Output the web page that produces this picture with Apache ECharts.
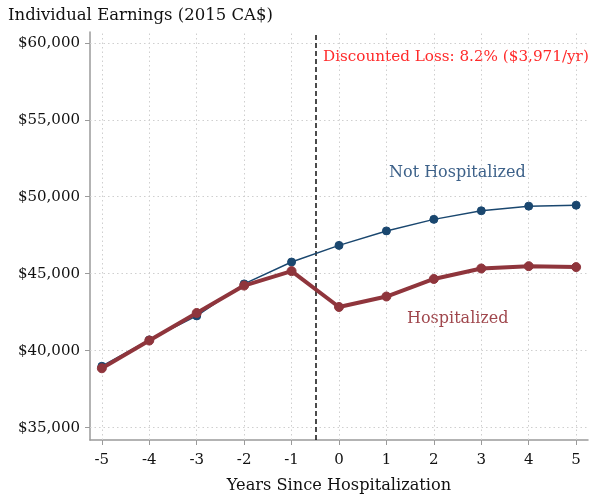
<!DOCTYPE html>
<html>
<head>
<meta charset="utf-8">
<script src="https://cdn.jsdelivr.net/npm/echarts@6/dist/echarts.min.js"></script>
<style>html,body{margin:0;padding:0;background:#fff;}#c{width:592px;height:494px;}</style>
</head>
<body>
<div id="c"></div>
<script>
const years = [-5, -4, -3, -2, -1, 0, 1, 2, 3, 4, 5];
const notHospitalized = [38990, 40700, 42260, 44340, 45760, 46840, 47780, 48530, 49090, 49390, 49450];
const hospitalized = [38860, 40660, 42450, 44230, 45170, 42840, 43520, 44660, 45340, 45490, 45430];
const xTicks = [-5, -4, -3, -2, -1, 0, 1, 2, 3, 4, 5];
const yTicks = [35000, 40000, 45000, 50000, 55000, 60000];
const eventLine = -0.5;

const FONT = 'DejaVu Serif';
const chart = echarts.init(document.getElementById('c'));
const gridLines = xTicks.map(v => ({xAxis: v})).concat(yTicks.map(v => ({yAxis: v})));

chart.setOption({
  animation: false,
  textStyle: {fontFamily: FONT},
  grid: {left: 90, right: 4, top: 32, bottom: 54, containLabel: false, outerBoundsMode: 'none'},
  xAxis: {
    type: 'value', min: -5.25, max: 5.25,
    axisLine: {show: true, onZero: false, lineStyle: {color: '#9a9a9a', width: 1.5}},
    axisTick: {show: true, customValues: xTicks, length: 5, lineStyle: {color: '#9a9a9a', width: 1}},
    axisLabel: {customValues: xTicks, color: '#111', fontFamily: FONT, fontSize: 15, margin: 13},
    splitLine: {show: false},
    name: 'Years Since Hospitalization', nameLocation: 'middle', nameGap: 38,
    nameTextStyle: {color: '#111', fontFamily: FONT, fontSize: 16.2}
  },
  yAxis: {
    type: 'value', min: 34200, max: 60700,
    axisLine: {show: true, onZero: false, lineStyle: {color: '#9a9a9a', width: 1.5}},
    axisTick: {show: true, customValues: yTicks, length: 5, lineStyle: {color: '#9a9a9a', width: 1}},
    axisLabel: {customValues: yTicks, color: '#111', fontFamily: FONT, fontSize: 15, margin: 10,
      formatter: v => '$' + Number(v).toLocaleString('en-US')},
    splitLine: {show: false}
  },
  graphic: [
    {type: 'text', left: 8, top: 7, style: {text: 'Individual Earnings (2015 CA$)', fontFamily: FONT, fontSize: 16.5, fill: '#111'}},
    {type: 'text', left: 323, top: 50, style: {text: 'Discounted Loss: 8.2% ($3,971/yr)', fontFamily: FONT, fontSize: 15.2, fill: '#ff2a2a'}},
    {type: 'text', left: 389, top: 165, style: {text: 'Not Hospitalized', fontFamily: FONT, fontSize: 16, fill: '#3d6189'}},
    {type: 'text', left: 407, top: 311, style: {text: 'Hospitalized', fontFamily: FONT, fontSize: 16, fill: '#a0474d'}}
  ],
  series: [
    {
      type: 'line', data: [], silent: true, z: 1,
      markLine: {silent: true, z: 1, symbol: 'none', label: {show: false},
        lineStyle: {color: '#cfcfcf', type: [1.5, 3], width: 1},
        emphasis: {disabled: true}, data: gridLines}
    },
    {
      type: 'line', data: [], silent: true, z: 2,
      markLine: {silent: true, z: 2, symbol: 'none', label: {show: false},
        lineStyle: {color: '#111', type: [5, 3], width: 1.5},
        emphasis: {disabled: true}, data: [{xAxis: eventLine}]}
    },
    {
      name: 'Not Hospitalized', type: 'line', z: 3,
      data: years.map((x, i) => [x, notHospitalized[i]]),
      symbol: 'circle', symbolSize: 8,
      lineStyle: {color: '#1a476f', width: 1.5},
      itemStyle: {color: '#1a476f', borderColor: '#1a476f', borderWidth: 1, opacity: 1}
    },
    {
      name: 'Hospitalized', type: 'line', z: 4,
      data: years.map((x, i) => [x, hospitalized[i]]),
      symbol: 'circle', symbolSize: 9,
      lineStyle: {color: '#8f353c', width: 4},
      itemStyle: {color: '#8f353c', borderColor: '#8f353c', borderWidth: 1, opacity: 1}
    }
  ]
});
</script>
</body>
</html>
